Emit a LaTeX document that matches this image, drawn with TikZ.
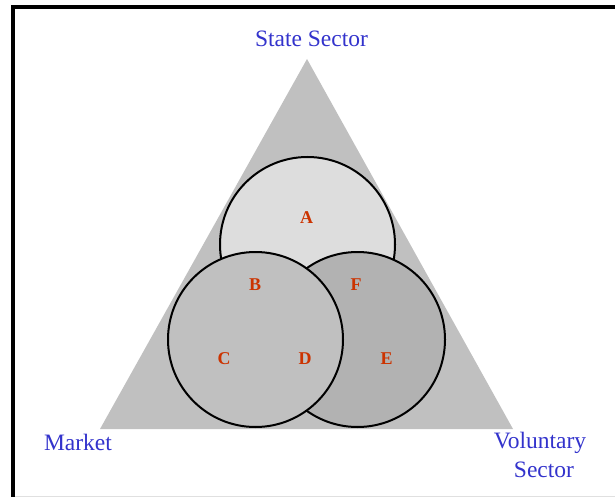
\documentclass[tikz,border=0pt]{standalone}
\usepackage{fontspec}
\setmainfont{Liberation Serif}
\usepackage{tikz}
\usetikzlibrary{positioning}
\definecolor{sectorColor}{RGB}{51,51,204}
\definecolor{regionColor}{RGB}{204,51,0}
\definecolor{triangleGray}{RGB}{192,192,192}
\definecolor{stateGray}{RGB}{221,221,221}
\definecolor{marketGray}{RGB}{192,192,192}
\definecolor{voluntaryGray}{RGB}{178,178,178}

\begin{document}
\begin{tikzpicture}[x=1pt,y=-1pt]

          \tikzstyle{sectorLabel} = [sectorColor, inner sep=0pt, anchor=base, font=\fontsize{23.5}{27}\selectfont];
          \tikzstyle{regionLabel} = [regionColor, inner sep=0pt, font=\fontsize{18}{20}\selectfont\bfseries];
          \tikzstyle{sectorCircle} = [circle, draw=black, line width=2pt, minimum size=175pt, inner sep=0pt];

          \useasboundingbox (0,0) rectangle (615,497);

          % frame
          \draw[line width=4pt] (13,497) -- (13,7) -- (615,7);
          \draw[black!12, line width=1pt] (15,496) -- (615,496);

          % triangle
          \coordinate (apex) at (307,59);
          \coordinate (baseLeft) at (100,429);
          \coordinate (baseRight) at (513,429);
          \fill[triangleGray] (apex) -- (baseLeft) -- (baseRight) -- cycle;

          % circles
          \node[sectorCircle, fill=stateGray] (stateCircle) at (307.5,244.5) {};
          \node[sectorCircle, fill=voluntaryGray] (voluntaryCircle) at (357.5,339.5) {};
          \node[sectorCircle, fill=marketGray] (marketCircle) at (255.5,339.5) {};

          % sectors
          \node[sectorLabel] (state) at (311.5,47) {State Sector};
          \node[sectorLabel] (market) at (78,450) {Market};
          \node[sectorLabel] (voluntary) at (540,448) {Voluntary};
          \node[sectorLabel] (voluntaryBis) at (544,477) {Sector};

          % regions
          \node[regionLabel] (a) at (306.7,218) {A};
          \node[regionLabel] (b) at (255,285) {B};
          \node[regionLabel] (f) at (356,285) {F};
          \node[regionLabel] (c) at (224,359) {C};
          \node[regionLabel] (d) at (305,359) {D};
          \node[regionLabel] (e) at (386.7,359) {E};
        \end{tikzpicture}
\end{document}
